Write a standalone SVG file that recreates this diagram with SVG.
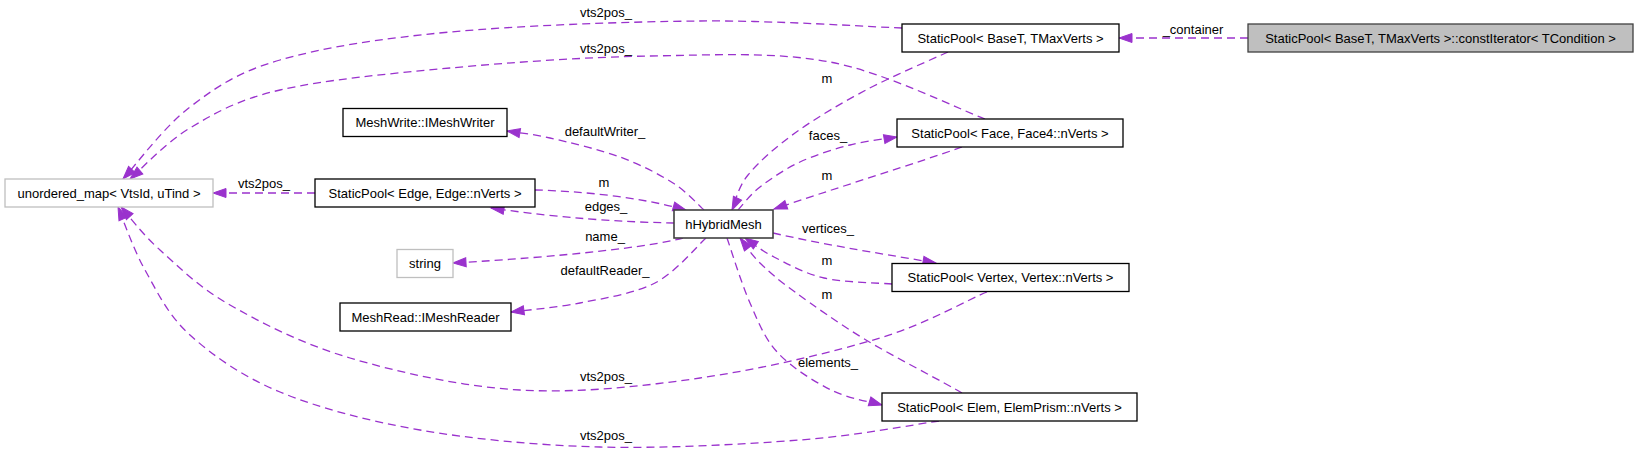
<svg xmlns="http://www.w3.org/2000/svg" width="1637" height="454" viewBox="0 0 1637 454">
<style>
text{font-family:"Liberation Sans",Arial,Helvetica,sans-serif;font-size:13px;fill:#000}
.node rect{fill:#fff;stroke:#000;stroke-width:1.3}
.node.ext rect{stroke:#bfbfbf}
.node.focus rect{fill:#bfbfbf;stroke:#404040}
.node.main rect{stroke:#404040;stroke-width:1.6}
.node text{text-anchor:middle}
.edge path{fill:none;stroke:#9a32cd;stroke-width:1.3;stroke-dasharray:8,5;marker-end:url(#arr)}
.edge text{text-anchor:middle}
</style>
<defs>
<marker id="arr" markerUnits="userSpaceOnUse" markerWidth="16" markerHeight="12" viewBox="-1 -1.5 15 12" refX="13" refY="4.5" orient="auto" overflow="visible">
<path d="M0,0 L13,4.5 L0,9 z" fill="#9a32cd" stroke="#9a32cd" stroke-width="1"/>
</marker>
</defs>
<rect x="0" y="0" width="1637" height="454" fill="#fff"/>
<g id="connectors">
<g class="edge" id="e_container"><path d="M1248,38 L1119,38"/><text x="1193" y="34">_container</text></g>
<g class="edge" id="e_base_umap"><path d="M902,28 C868.3,26.8 775.3,20.3 700,21 C624.7,21.7 520,25.5 450,32 C380,38.5 323.3,47.5 280,60 C236.7,72.5 216.2,87.2 190,107 C163.8,126.8 134.2,167 123,179"/><text x="606" y="17">vts2pos_</text></g>
<g class="edge" id="e_face_umap"><path d="M985,119 C959.2,109.5 885.8,72.5 830,62 C774.2,51.5 713.3,55 650,56 C586.7,57 511.7,62.3 450,68 C388.3,73.7 323.3,80 280,90 C236.7,100 215,113.2 190,128 C165,142.8 140,170.5 130,179"/><text x="606" y="52.5">vts2pos_</text></g>
<g class="edge" id="e_base_mesh"><path d="M948,52 C934.3,58.3 891.5,76.5 866,90 C840.5,103.5 814.7,118.8 795,133 C775.3,147.2 758.5,162.2 748,175 C737.5,187.8 734.7,204.2 732,210"/><text x="827" y="83">m</text></g>
<g class="edge" id="e_faces"><path d="M738,210 C741.7,206.2 749.7,195 760,187 C770.3,179 785,169 800,162 C815,155 833.8,149.2 850,145 C866.2,140.8 889.2,138.3 897,137"/><text x="828" y="140">faces_</text></g>
<g class="edge" id="e_face_mesh"><path d="M962,147 C920,162 830,190 774,209"/><text x="827" y="180">m</text></g>
<g class="edge" id="e_writer"><path d="M704,210 C698.8,205.5 687,191.8 673,183 C659,174.2 640.5,164.5 620,157 C599.5,149.5 568.8,142.3 550,138 C531.2,133.7 514.2,132.2 507,131"/><text x="605" y="136">defaultWriter_</text></g>
<g class="edge" id="e_edge_mesh"><path d="M535,190 C580,191 640,197 686,210"/><text x="604" y="187">m</text></g>
<g class="edge" id="e_edges"><path d="M674,223 C620,222 560,218 491,208"/><text x="606" y="211">edges_</text></g>
<g class="edge" id="e_edge_umap"><path d="M315,193 L213,193"/><text x="264" y="188">vts2pos_</text></g>
<g class="edge" id="e_name"><path d="M683,238 C650,247 560,257 453,263"/><text x="605" y="241">name_</text></g>
<g class="edge" id="e_reader"><path d="M706,238 C697.5,245.5 676,272.2 655,283 C634,293.8 604,298.2 580,303 C556,307.8 522.5,310.5 511,312"/><text x="605" y="275">defaultReader_</text></g>
<g class="edge" id="e_vertices"><path d="M773,233 C830,246 890,255 936,263"/><text x="828" y="233">vertices_</text></g>
<g class="edge" id="e_vertex_mesh"><path d="M892,284 C880.7,283 843.7,282.5 824,278 C804.3,273.5 787.2,263.7 774,257 C760.8,250.3 749.8,241.2 745,238"/><text x="827" y="265">m</text></g>
<g class="edge" id="e_elem_mesh"><path d="M962,393 C946,383.3 893.8,356.7 866,340 C838.2,323.3 812.7,304.8 795,292 C777.3,279.2 769.2,272 760,263 C750.8,254 743.3,242.2 740,238"/><text x="827" y="299">m</text></g>
<g class="edge" id="e_elements"><path d="M727,238 C730.8,248.8 741.5,283.8 750,303 C758.5,322.2 764.5,338.5 778,353 C791.5,367.5 813.7,381.3 831,390 C848.3,398.7 873.5,402.5 882,405"/><text x="828" y="367">elements_</text></g>
<g class="edge" id="e_vertex_umap"><path d="M987,292 C969.2,298.8 927.8,323.5 880,338 C832.2,352.5 760,369.3 700,378 C640,386.7 578.3,393.3 520,390 C461.7,386.7 398.3,372.2 350,358 C301.7,343.8 261.7,323 230,305 C198.3,287 178.2,266.3 160,250 C141.8,233.7 127.5,214.2 121,207"/><text x="606" y="381">vts2pos_</text></g>
<g class="edge" id="e_elem_umap"><path d="M939,421 C915.8,424.2 856.5,435.7 800,440 C743.5,444.3 663.3,448.7 600,447 C536.7,445.3 473.3,439.2 420,430 C366.7,420.8 318.3,407.8 280,392 C241.7,376.2 212.5,355.3 190,335 C167.5,314.7 157,291.3 145,270 C133,248.7 122.5,217.5 118,207"/><text x="606" y="440">vts2pos_</text></g>
</g>
<g id="n_const" class="node focus"><rect x="1248" y="24" width="385" height="28"/><text x="1440.5" y="42.5">StaticPool&lt; BaseT, TMaxVerts &gt;::constIterator&lt; TCondition &gt;</text></g>
<g id="n_baseT" class="node"><rect x="902" y="24" width="217" height="28"/><text x="1010.5" y="42.5">StaticPool&lt; BaseT, TMaxVerts &gt;</text></g>
<g id="n_face" class="node"><rect x="897" y="119" width="226" height="28"/><text x="1010" y="137.5">StaticPool&lt; Face, Face4::nVerts &gt;</text></g>
<g id="n_umap" class="node ext"><rect x="5" y="179" width="208" height="28"/><text x="109" y="197.5">unordered_map&lt; VtsId, uTind &gt;</text></g>
<g id="n_writer" class="node"><rect x="343" y="108.5" width="164" height="28"/><text x="425" y="127">MeshWrite::IMeshWriter</text></g>
<g id="n_edge" class="node"><rect x="315" y="179" width="220" height="28"/><text x="425" y="197.5">StaticPool&lt; Edge, Edge::nVerts &gt;</text></g>
<g id="n_hmesh" class="node main"><rect x="674" y="210" width="99" height="28"/><text x="723.5" y="228.5">hHybridMesh</text></g>
<g id="n_string" class="node ext"><rect x="397" y="249.5" width="56" height="28"/><text x="425" y="268">string</text></g>
<g id="n_reader" class="node"><rect x="340" y="303" width="171" height="28"/><text x="425.5" y="321.5">MeshRead::IMeshReader</text></g>
<g id="n_vertex" class="node"><rect x="892" y="263.5" width="237" height="28"/><text x="1010.5" y="282">StaticPool&lt; Vertex, Vertex::nVerts &gt;</text></g>
<g id="n_elem" class="node"><rect x="882" y="393" width="255" height="28"/><text x="1009.5" y="411.5">StaticPool&lt; Elem, ElemPrism::nVerts &gt;</text></g>
</svg>
